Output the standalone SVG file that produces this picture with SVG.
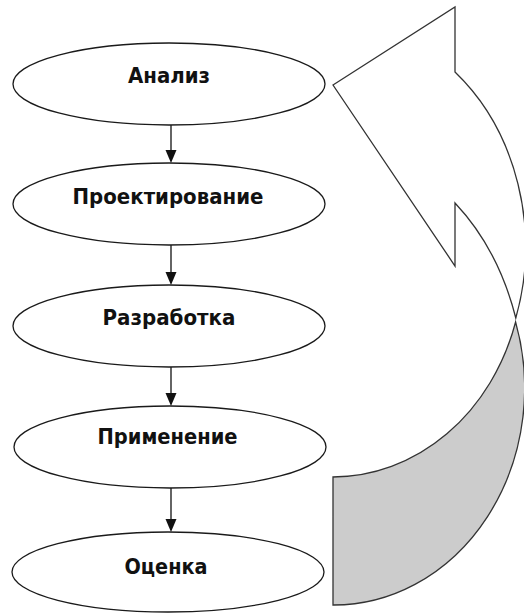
<svg xmlns="http://www.w3.org/2000/svg" width="524" height="613" viewBox="0 0 524 613">
  <style>
    .node ellipse { fill: #ffffff; stroke: #1a1a1a; stroke-width: 1.3; }
    .node text { font-family: "DejaVu Sans", "Liberation Sans", sans-serif; font-weight: bold; font-size: 21px; fill: #111111; text-anchor: middle; }
    .conn line { stroke: #111111; stroke-width: 1.3; }
    .conn polygon { fill: #111111; stroke: none; }
    .band { stroke: #333333; stroke-width: 1.3; stroke-linejoin: miter; }
  </style>
  <rect width="524" height="613" fill="#ffffff"/>

  <g id="cycle-arrow">
    <path id="back" class="band" fill="#cccccc" d="M333,477 A191,217 0 0 0 515.6,322 A191,217 0 0 1 333,605 Z"/>
    <path id="front" class="band" fill="#ffffff" d="M333,85 L455,7 L455,72 A192.5,226 0 0 1 515.8,318 A191,249 0 0 0 455,203 L455,266 Z"/>
  </g>

  <g id="connectors" class="conn">
    <line x1="171" y1="125" x2="171" y2="151"/>
    <polygon points="165.5,150 176.5,150 171,163"/>
    <line x1="171" y1="245" x2="171" y2="273"/>
    <polygon points="165.5,272 176.5,272 171,285"/>
    <line x1="171" y1="367" x2="171" y2="394"/>
    <polygon points="165.5,393 176.5,393 171,406"/>
    <line x1="171" y1="488" x2="171" y2="520"/>
    <polygon points="165.5,519 176.5,519 171,532"/>
  </g>

  <g id="analiz" class="node">
    <ellipse cx="169" cy="84" rx="156" ry="41"/>
    <text x="169" y="83" textLength="82" lengthAdjust="spacingAndGlyphs">Анализ</text>
  </g>
  <g id="proektirovanie" class="node">
    <ellipse cx="169" cy="204" rx="156" ry="41"/>
    <text x="168" y="204" textLength="191" lengthAdjust="spacingAndGlyphs">Проектирование</text>
  </g>
  <g id="razrabotka" class="node">
    <ellipse cx="169" cy="326" rx="156" ry="41"/>
    <text x="169" y="325" textLength="133" lengthAdjust="spacingAndGlyphs">Разработка</text>
  </g>
  <g id="primenenie" class="node">
    <ellipse cx="170" cy="447" rx="156" ry="41"/>
    <text x="167.5" y="444" textLength="140" lengthAdjust="spacingAndGlyphs">Применение</text>
  </g>
  <g id="ocenka" class="node">
    <ellipse cx="168" cy="572" rx="156" ry="40"/>
    <text x="166" y="574" textLength="83" lengthAdjust="spacingAndGlyphs">Оценка</text>
  </g>
</svg>
